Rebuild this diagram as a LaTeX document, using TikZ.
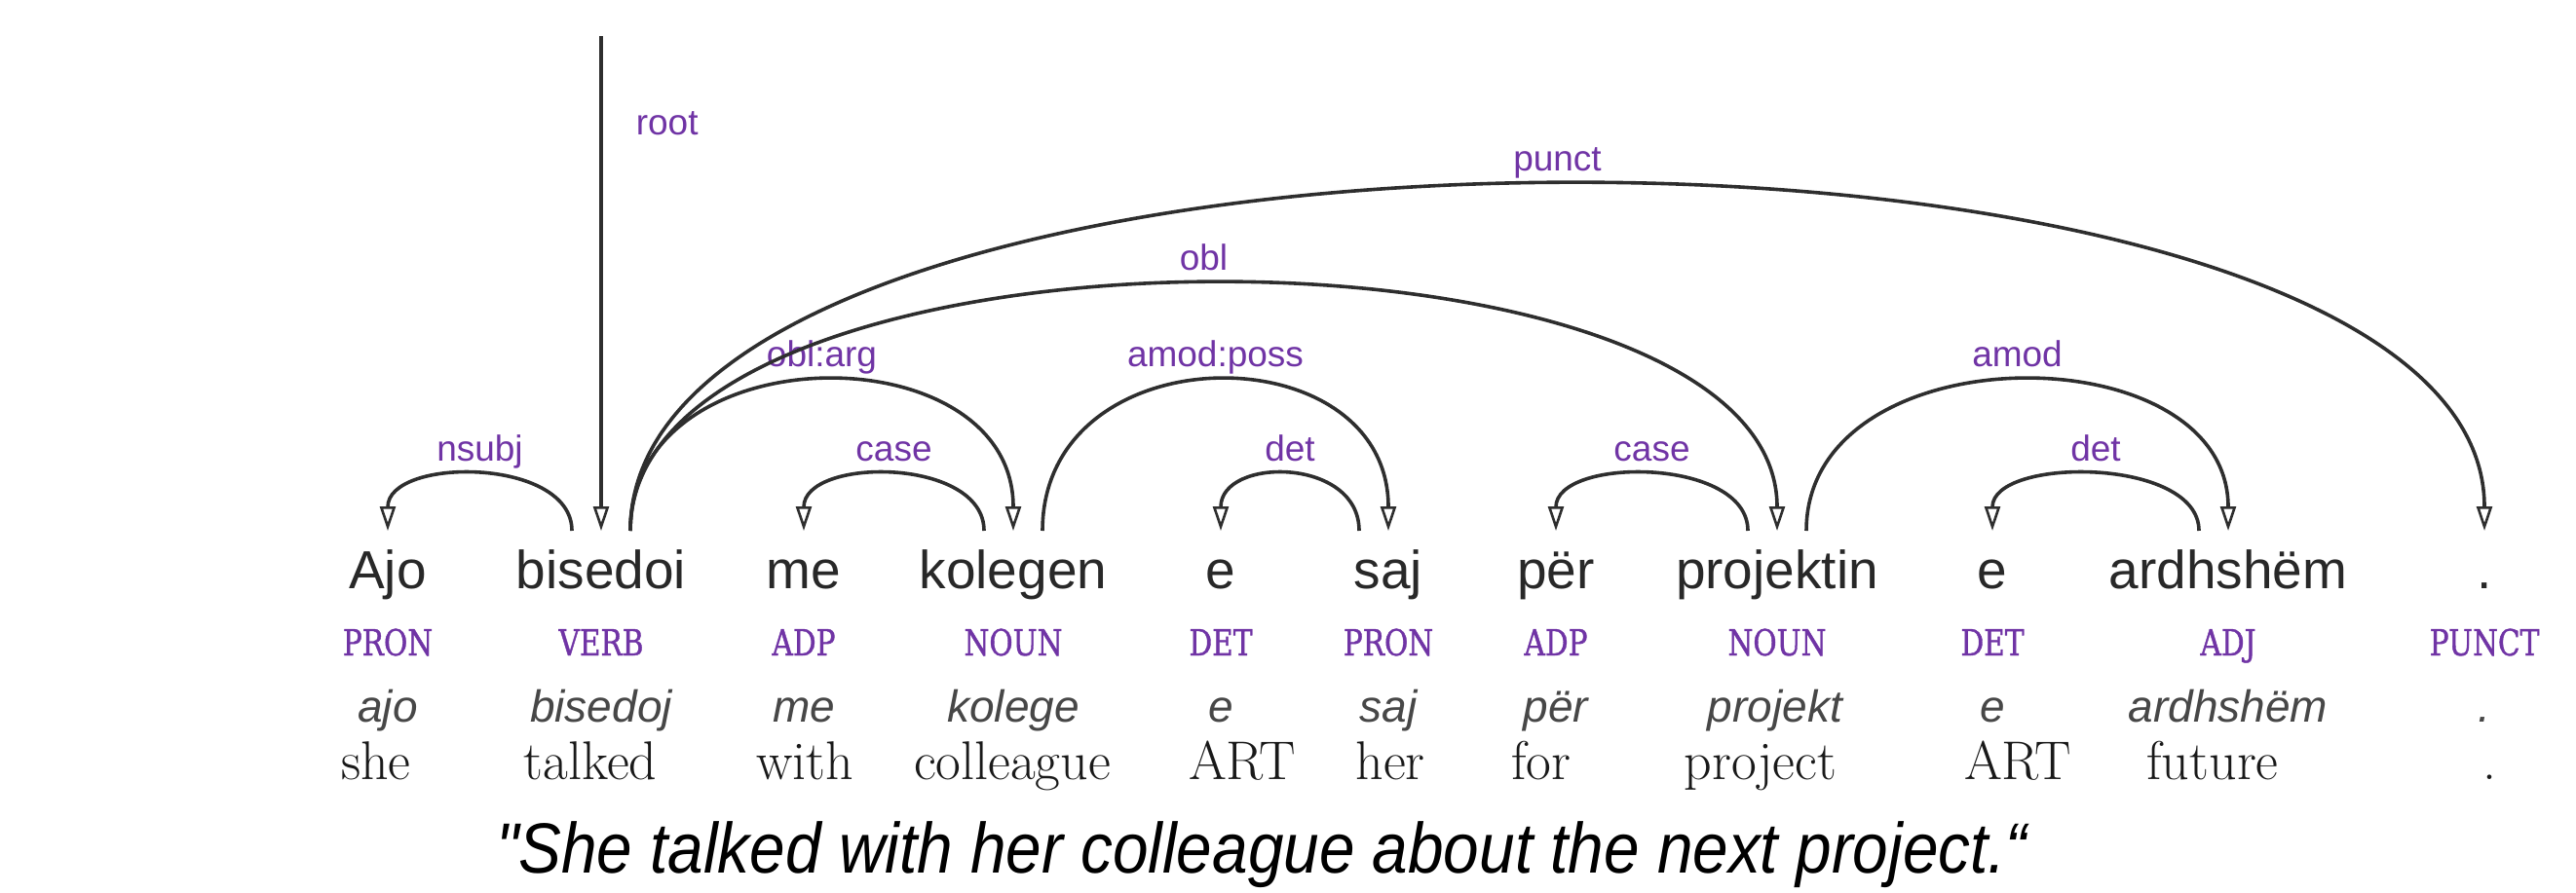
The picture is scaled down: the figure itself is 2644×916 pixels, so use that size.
\documentclass[tikz,border=0pt]{standalone}
\usepackage{fontspec}
\usepackage{graphicx}
\usetikzlibrary{arrows.meta}
\newfontfamily\wordfont{Liberation Sans}
\newfontfamily\posfont[FakeStretch=0.8,FakeBold=1]{DejaVu Serif}
\newfontfamily\transfont[FakeStretch=0.9]{Liberation Sans}
\definecolor{deplab}{RGB}{112,52,165}
\definecolor{ink}{RGB}{40,40,40}
\tikzset{
  word/.style={anchor=base, inner sep=0pt, text=ink, font=\wordfont\fontsize{55}{60}\selectfont},
  posl/.style={anchor=base, inner sep=0pt, text=deplab, font=\posfont\fontsize{37}{40}\selectfont},
  lemma/.style={anchor=base, inner sep=0pt, text=black!72, font=\wordfont\itshape\fontsize{46}{50}\selectfont},
  gloss/.style={anchor=base, inner sep=0pt, text=black!90, font=\fontsize{56}{60}\selectfont},
  rel/.style={anchor=base, inner sep=0pt, text=deplab, font=\wordfont\fontsize{37}{40}\selectfont},
  dep/.style={draw=black!82, line width=3.6pt, -{Triangle[open, length=25pt, width=16pt, line width=2.6pt]}},
  transl/.style={anchor=base west, inner sep=0pt, text=black, font=\transfont\itshape\fontsize{73}{80}\selectfont}
}
\begin{document}
\begin{tikzpicture}[x=1pt,y=-1pt]
\useasboundingbox (0,0) rectangle (2644,916);
% words
\node[word] (ajo)  at (398,604)  {Ajo};
\node[word] (bis)  at (617,604)  {bisedoi};
\node[word] (me)   at (825,604)  {me};
\node[word] (kol)  at (1040,604) {kolegen};
\node[word] (e1)   at (1253,604) {e};
\node[word] (saj)  at (1425,604) {saj};
\node[word] (per)  at (1597,604) {për};
\node[word] (proj) at (1824,604) {projektin};
\node[word] (e2)   at (2045,604) {e};
\node[word] (ard)  at (2287,604) {ardhshëm};
\node[word] (dot)  at (2550,604) {.};
% POS
\node[posl] (pos1)  at (398,673)  {PRON};
\node[posl] (pos2)  at (617,673)  {VERB};
\node[posl] (pos3)  at (825,673)  {ADP};
\node[posl] (pos4)  at (1040,673) {NOUN};
\node[posl] (pos5)  at (1253,673) {DET};
\node[posl] (pos6)  at (1425,673) {PRON};
\node[posl] (pos7)  at (1597,673) {ADP};
\node[posl] (pos8)  at (1824,673) {NOUN};
\node[posl] (pos9)  at (2045,673) {DET};
\node[posl] (pos10) at (2287,673) {ADJ};
\node[posl] (pos11) at (2550,673) {PUNCT};
% lemmas
\node[lemma] (lem1)  at (398,741)  {ajo};
\node[lemma] (lem2)  at (617,741)  {bisedoj};
\node[lemma] (lem3)  at (825,741)  {me};
\node[lemma] (lem4)  at (1040,741) {kolege};
\node[lemma] (lem5)  at (1253,741) {e};
\node[lemma] (lem6)  at (1425,741) {saj};
\node[lemma] (lem7)  at (1597,741) {për};
\node[lemma] (lem8)  at (1822,741) {projekt};
\node[lemma] (lem9)  at (2045,741) {e};
\node[lemma] (lem10) at (2287,741) {ardhshëm};
\node[lemma] (lem11) at (2550,741) {.};
% glosses
\node[gloss] (gl1)  at (386,800)  {she};
\node[gloss] (gl2)  at (606,800)  {talked};
\node[gloss] (gl3)  at (826,800)  {with};
\node[gloss] (gl4)  at (1039,800) {colleague};
\node[gloss] (gl5)  at (1275,800) {ART};
\node[gloss] (gl6)  at (1427,800) {her};
\node[gloss] (gl7)  at (1582,800) {for};
\node[gloss] (gl8)  at (1807,800) {project};
\node[gloss] (gl9)  at (2071,800) {ART};
\node[gloss] (gl10) at (2271,800) {future};
\node[gloss] (gl11) at (2555,800) {.};
% translation
\node[transl] (trans) at (509,896) {"She talked with her colleague about the next project.“};
% ports
\coordinate (ajoC) at (398,545);
\coordinate (bisL) at (587,545);
\coordinate (bisC) at (617,545);
\coordinate (bisR) at (647,545);
\coordinate (meC)  at (825,545);
\coordinate (kolL) at (1010,545);
\coordinate (kolC) at (1040,545);
\coordinate (kolR) at (1070,545);
\coordinate (e1C)  at (1253,545);
\coordinate (sajL) at (1395,545);
\coordinate (sajC) at (1425,545);
\coordinate (perC) at (1597,545);
\coordinate (projL) at (1794,545);
\coordinate (projC) at (1824,545);
\coordinate (projR) at (1854,545);
\coordinate (e2C)  at (2045,545);
\coordinate (ardL) at (2257,545);
\coordinate (ardC) at (2287,545);
\coordinate (dotC) at (2550,545);
\coordinate (rootTop) at (617,37);
% arcs
\draw[dep] (rootTop) -- (bisC) node[rel, anchor=base west, pos=0.2, xshift=34pt] {root};
\draw[dep] (bisL) .. controls +(0,-76) and +(0,-76) .. (ajoC) node[rel, midway, yshift=15pt] {nsubj};
\draw[dep] (bisR) .. controls +(0,-205) and +(0,-205) .. (kolC) node[rel, midway, yshift=15pt] {obl:arg};
\draw[dep] (bisR) .. controls +(0,-337) and +(0,-337) .. (projC) node[rel, midway, yshift=15pt] {obl};
\draw[dep] (bisR) .. controls +(0,-473) and +(0,-473) .. (dotC) node[rel, midway, yshift=15pt] {punct};
\draw[dep] (kolL) .. controls +(0,-76) and +(0,-76) .. (meC) node[rel, midway, yshift=15pt] {case};
\draw[dep] (kolR) .. controls +(0,-205) and +(0,-205) .. (sajC) node[rel, midway, yshift=15pt] {amod:poss};
\draw[dep] (sajL) .. controls +(0,-76) and +(0,-76) .. (e1C) node[rel, midway, yshift=15pt] {det};
\draw[dep] (projL) .. controls +(0,-76) and +(0,-76) .. (perC) node[rel, midway, yshift=15pt] {case};
\draw[dep] (projR) .. controls +(0,-205) and +(0,-205) .. (ardC) node[rel, midway, yshift=15pt] {amod};
\draw[dep] (ardL) .. controls +(0,-76) and +(0,-76) .. (e2C) node[rel, midway, yshift=15pt] {det};
\end{tikzpicture}
\end{document}
